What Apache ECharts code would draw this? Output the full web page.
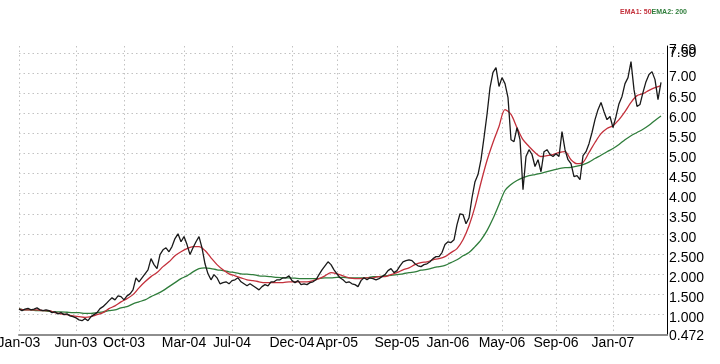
<!DOCTYPE html>
<html><head><meta charset="utf-8">
<script src="https://cdn.jsdelivr.net/npm/echarts@6/dist/echarts.min.js"></script>
<style>html,body{margin:0;padding:0;background:#fff}#c{width:720px;height:364px}</style>
</head><body><div id="c"></div><script>
// x-axis tick labels and the price slot where each one sits
const tickLabels = ['Jan-03','Jun-03','Oct-03','Mar-04','Jul-04','Dec-04','Apr-05','Sep-05','Jan-06','May-06','Sep-06','Jan-07'];
const tickSlots = [0,19,35,55,71,91,106,126,143,161,179,198];
const priceSlotCount = 217;   // price sampled every slot
const emaSlotCount = 109;     // moving averages sampled every 2nd slot

// closing price
const price = [
1.12,1.08,1.12,1.14,1.10,1.12,1.15,1.10,1.08,1.10,
1.08,1.03,1.05,1.00,1.03,0.98,1.00,0.95,0.93,0.90,
0.85,0.83,0.88,0.83,0.93,0.98,1.03,1.13,1.18,1.25,
1.33,1.40,1.35,1.45,1.43,1.35,1.45,1.50,1.60,1.90,
1.80,1.90,2.00,2.10,2.38,2.23,2.13,2.48,2.60,2.65,
2.55,2.68,2.88,3.00,2.80,2.93,2.73,2.48,2.65,2.80,
2.93,2.65,2.25,2.00,1.85,1.98,1.90,1.75,1.78,1.80,
1.75,1.83,1.85,1.90,1.80,1.75,1.70,1.75,1.70,1.65,
1.60,1.68,1.73,1.70,1.80,1.80,1.85,1.85,1.90,1.90,
1.95,1.83,1.78,1.83,1.73,1.75,1.73,1.78,1.80,1.85,
1.98,2.10,2.20,2.30,2.23,2.10,2.00,1.90,1.85,1.78,
1.80,1.75,1.73,1.68,1.83,1.90,1.85,1.90,1.88,1.85,
1.88,1.93,1.98,2.08,2.13,2.03,2.08,2.20,2.30,2.33,
2.35,2.33,2.25,2.20,2.18,2.23,2.25,2.30,2.38,2.43,
2.43,2.53,2.73,2.80,2.78,2.85,3.23,3.50,3.48,3.25,
3.40,3.90,4.30,4.48,4.85,5.40,5.98,6.65,7.03,7.15,
6.68,6.90,6.75,6.40,5.35,5.30,5.65,5.35,4.10,4.93,
5.10,4.98,4.68,4.85,4.55,5.05,5.10,4.98,4.93,5.00,
4.93,5.55,5.10,4.85,4.75,4.43,4.45,4.35,4.95,5.05,
5.25,5.53,5.85,6.10,6.28,6.05,5.85,5.93,5.65,5.93,
6.25,6.43,6.75,6.90,7.30,6.60,6.18,6.23,6.53,6.80,
6.98,7.05,6.85,6.35,6.78
];

// EMA 50 (red)
const ema50 = [
1.12,1.10,1.10,1.10,1.08,1.08,1.03,1.00,0.98,0.95,
0.93,0.91,0.93,0.98,1.03,1.13,1.20,1.30,1.38,1.48,
1.65,1.80,1.93,2.03,2.18,2.30,2.45,2.55,2.63,2.68,
2.68,2.58,2.40,2.23,2.10,2.00,1.95,1.90,1.85,1.83,
1.80,1.78,1.78,1.78,1.78,1.80,1.80,1.80,1.80,1.83,
1.88,1.95,2.03,2.00,1.95,1.90,1.88,1.88,1.90,1.90,
1.93,1.93,1.98,2.03,2.10,2.15,2.23,2.28,2.30,2.35,
2.38,2.43,2.53,2.63,2.85,3.20,3.68,4.28,4.83,5.28,
5.68,6.10,5.98,5.65,5.35,5.18,5.03,4.93,4.95,4.98,
5.03,5.05,4.85,4.75,4.78,5.03,5.28,5.50,5.63,5.70,
5.85,6.05,6.28,6.45,6.50,6.58,6.65,6.70
];

// EMA 200 (green)
const ema200 = [
1.13,1.10,1.10,1.08,1.08,1.06,1.05,1.05,1.04,1.03,
1.03,1.01,1.01,1.03,1.05,1.08,1.10,1.15,1.18,1.25,
1.30,1.35,1.43,1.50,1.58,1.68,1.78,1.88,1.95,2.05,
2.13,2.15,2.13,2.10,2.08,2.05,2.03,2.00,1.99,1.98,
1.95,1.94,1.93,1.91,1.90,1.90,1.89,1.88,1.88,1.88,
1.88,1.90,1.90,1.91,1.91,1.90,1.90,1.90,1.90,1.93,
1.93,1.95,1.96,1.98,2.00,2.03,2.05,2.09,2.11,2.15,
2.18,2.21,2.28,2.35,2.45,2.53,2.68,2.85,3.08,3.38,
3.73,4.08,4.23,4.33,4.40,4.45,4.48,4.51,4.55,4.59,
4.63,4.65,4.66,4.69,4.73,4.79,4.88,4.96,5.05,5.13,
5.23,5.35,5.45,5.53,5.61,5.71,5.83,5.94
];

// y-axis labels / gridlines
const yLabelValues = [0.472,1,1.5,2,2.5,3,3.5,4,4.5,5,5.5,6,6.5,7,7.5];
const yLabelTexts = ['0.472','1.000','1.500','2.000','2.500','3.00','3.50','4.00','4.50','5.00','5.50','6.00','6.50','7.00','7.50'];
const yTopValue = [7.69];
const yTopText = ['7.69'];
const yGridValues = [1,1.5,2,2.5,3,3.5,4,4.5,5,5.5,6,6.5,7,7.5];
const yMin = 0.472, yMax = 7.69;

const priceCats = Array.from({length: priceSlotCount}, (_, i) => 'p' + i);
const emaCats = Array.from({length: emaSlotCount}, (_, i) => 'e' + i);
const labelAt = {};
tickSlots.forEach((s, k) => { labelAt[s] = tickLabels[k]; });
const isTick = (i) => labelAt[i] !== undefined;

const FONT = '"Liberation Sans", Arial, sans-serif';
const gridLine = { color: '#c2c2c2', width: 1, type: [1.5, 3] };
const nearest = (vals, texts, v) => {
  let k = 0, best = 1e9;
  vals.forEach((lv, j) => { const d = Math.abs(lv - v); if (d < best) { best = d; k = j; } });
  return texts[k];
};
const richY = {
  n: { color: '#000', fontSize: 14, fontFamily: FONT, padding: [8, 0, 0, 0] },
  t: { color: '#000', fontSize: 14, fontFamily: FONT, padding: [0, 0, 0, 0] },
  b: { color: '#000', fontSize: 14, fontFamily: FONT, padding: [2, 0, 0, 0] }
};

const chart = echarts.init(document.getElementById('c'), null, { renderer: 'canvas' });
chart.setOption({
  animation: false,
  backgroundColor: '#ffffff',
  title: {
    text: '{r|EMA1: 50}{g|EMA2: 200}',
    right: 33, top: 9, padding: 0,
    textStyle: {
      fontSize: 7, fontFamily: FONT,
      rich: {
        r: { color: '#c3303b', fontSize: 7, fontFamily: FONT },
        g: { color: '#2f7d3b', fontSize: 7, fontFamily: FONT }
      }
    }
  },
  grid: { left: 19, right: 53, top: 46, bottom: 29, containLabel: false, outerBoundsMode: 'none' },
  xAxis: [
    {
      type: 'category', data: priceCats, boundaryGap: false,
      axisLine: { show: true, lineStyle: { color: '#8e8e8e', width: 2 } },
      axisTick: { show: false, interval: (i) => isTick(i) },
      axisLabel: {
        interval: (i) => isTick(i),
        formatter: (v, i) => labelAt[i] || '',
        color: '#000', fontSize: 14, fontFamily: FONT, margin: 1,
        hideOverlap: false, alignMinLabel: 'center', alignMaxLabel: 'center'
      },
      splitLine: { show: true, interval: (i) => isTick(i), lineStyle: gridLine }
    },
    { type: 'category', data: emaCats, boundaryGap: false, show: false }
  ],
  yAxis: [
    {
      type: 'value', position: 'right', min: yMin, max: yMax, scale: true,
      axisLine: { show: true, lineStyle: { color: '#000', width: 1 } },
      axisTick: { show: false, customValues: yGridValues },
      axisLabel: {
        customValues: yLabelValues,
        margin: 2, showMinLabel: true, showMaxLabel: true, hideOverlap: false,
        formatter: (v) => {
          const t = nearest(yLabelValues, yLabelTexts, v);
          if (t === '7.50') return '{t|' + t + '}';
          if (t === '0.472') return '{b|' + t + '}';
          return '{n|' + t + '}';
        },
        rich: richY
      },
      splitLine: { show: true, lineStyle: gridLine }
    },
    {
      type: 'value', position: 'right', min: yMin, max: yMax, scale: true,
      axisLine: { show: false }, axisTick: { show: false, customValues: yTopValue },
      splitLine: { show: false },
      axisLabel: {
        customValues: yTopValue, margin: 2, showMinLabel: true, showMaxLabel: true,
        formatter: (v) => '{n|' + nearest(yTopValue, yTopText, v) + '}',
        rich: richY
      }
    }
  ],
  series: [
    { name: 'EMA2: 200', type: 'line', xAxisIndex: 1, data: ema200, showSymbol: false, smooth: 0.3,
      lineStyle: { color: '#2f7d3b', width: 1.3 }, itemStyle: { color: '#2f7d3b' }, silent: true },
    { name: 'EMA1: 50', type: 'line', xAxisIndex: 1, data: ema50, showSymbol: false, smooth: 0.3,
      lineStyle: { color: '#c3303b', width: 1.3 }, itemStyle: { color: '#c3303b' }, silent: true },
    { name: 'Price', type: 'line', xAxisIndex: 0, data: price, showSymbol: false,
      lineStyle: { color: '#1a1a1a', width: 1.3 }, itemStyle: { color: '#1a1a1a' }, silent: true }
  ]
});
</script></body></html>
